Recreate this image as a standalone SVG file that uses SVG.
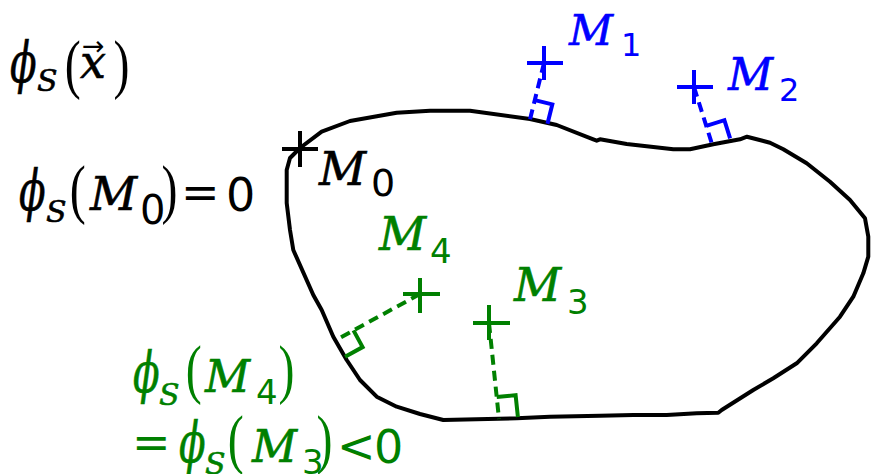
<svg xmlns="http://www.w3.org/2000/svg" width="879" height="474" viewBox="0 0 879 474">
<style>
.var{font-family:"DejaVu Serif",serif;font-style:italic;stroke-width:0.6}
.num{font-family:"DejaVu Sans",sans-serif}
.par{font-family:"Liberation Serif",serif;font-size:48px;stroke-width:0}
.blk{fill:#000;stroke:#000}
.blu{fill:#0000ff;stroke:#0000ff}
.grn{fill:#008000;stroke:#008000}
.num{stroke-width:0}
.phi{font-family:"DejaVu Serif",serif;font-style:italic;font-size:46px;stroke-width:0.5}
.cross{fill:none;stroke-width:4;stroke-linecap:butt}
.dash{fill:none;stroke-width:4;stroke-dasharray:10 6}
.ra{fill:none;stroke-width:4;stroke-linejoin:miter}
</style>
<rect width="879" height="474" fill="#fff"/>
<g id="outline">
<path d="M300,148 L321.7,131.7 L350,121 L396.7,112.7 L430,110.7 L470,110.7 L530,119 L556.7,125 L593.3,139.3 L596.7,140.7 L600,139.3 L626.7,144 L673.3,149.3 L690,149.3 L713.3,144.3 L740,139.3 L747,136.7 L770,142.7 L783.3,149.3 L806.7,163.3 L830,181.7 L850,200 L865,218.3 L868.3,236.7 L868.3,256.7 L863.3,273.3 L853.3,296.7 L840,316.7 L816.7,343.3 L796.7,363.3 L773.3,378.3 L753.3,390 L721.7,410 L718.3,412.7 L696.7,413.3 L666.7,415 L633.3,415 L600,415.7 L550,416.7 L516.7,418.3 L443.3,420 L420,414 L396.7,406.7 L376.7,396.7 L360,380 L346.7,360 L333.3,336.7 L321.7,310 L313.3,295 L293.3,250 L290,230 L286.7,203 L286.7,170 L290,158 Z" fill="none" stroke="#000" stroke-width="4" stroke-linejoin="round"/>
</g>
<g id="connectors">
<line class="dash" stroke="#0000ff" x1="544" y1="63" x2="530" y2="119.5"/>
<polyline class="ra" stroke="#0000ff" points="534.8,100.1 552.3,104.4 547.5,123.8"/>
<line class="dash" stroke="#0000ff" x1="694" y1="87" x2="712" y2="144"/>
<polyline class="ra" stroke="#0000ff" points="706.3,125.9 724.4,120.2 730.1,138.3"/>
<line class="dash" stroke="#008000" x1="420" y1="294" x2="336" y2="340"/>
<polyline class="ra" stroke="#008000" points="353.5,330.4 362.6,347.1 345.1,356.7"/>
<line class="dash" stroke="#008000" x1="489" y1="323" x2="499" y2="419"/>
<polyline class="ra" stroke="#008000" points="496.7,397.1 515.6,395.1 517.9,417"/>
</g>
<g id="M0">
<path class="cross" stroke="#000" d="M282,149 H318 M300,131 V167"/>
<text class="blk"><tspan class="var" x="319" y="185" font-size="46">M</tspan><tspan class="num" x="371" y="196" font-size="38">0</tspan></text>
</g>
<g id="M1">
<path class="cross" stroke="#0000ff" d="M527,63 H563 M544,46 V80"/>
<text class="blu"><tspan class="var" x="569" y="45" font-size="43">M</tspan><tspan class="num" x="621" y="56" font-size="32">1</tspan></text>
</g>
<g id="M2">
<path class="cross" stroke="#0000ff" d="M677,87 H713 M694,70 V104"/>
<text class="blu"><tspan class="var" x="728" y="90" font-size="44">M</tspan><tspan class="num" x="779" y="101" font-size="32">2</tspan></text>
</g>
<g id="M3">
<path class="cross" stroke="#008000" d="M473,323 H510 M489,305 V340"/>
<text class="grn"><tspan class="var" x="514" y="301" font-size="46">M</tspan><tspan class="num" x="567" y="314" font-size="34">3</tspan></text>
</g>
<g id="M4">
<path class="cross" stroke="#008000" d="M403,294 H440 M420,278 V313"/>
<text class="grn"><tspan class="var" x="379" y="250" font-size="46">M</tspan><tspan class="num" x="430" y="263" font-size="34">4</tspan></text>
</g>
<g id="formula-phi-x">
<text class="phi blk" transform="translate(10,82) scale(0.85,1.22)">ϕ</text>
<text class="blk var" x="37" y="91" font-size="30">S</text>
<text class="par blk" transform="translate(64.7,85.5) scale(1,1.35)">(</text>
<text class="blk var" x="80" y="78" font-size="46">x</text>
<text class="blk num" x="82" y="55" font-size="27">→</text>
<text class="par blk" transform="translate(113.6,85.5) scale(1,1.35)">)</text>
</g>
<g id="formula-M0">
<text class="phi blk" transform="translate(19,210) scale(0.85,1.22)">ϕ</text>
<text class="blk var" x="46" y="222" font-size="30">S</text>
<text class="par blk" transform="translate(69.7,210.5) scale(1,1.35)">(</text>
<text class="blk"><tspan class="var" x="90" y="210" font-size="46">M</tspan><tspan class="num" x="140" y="224" font-size="40">0</tspan></text>
<text class="par blk" transform="translate(161.6,210.5) scale(1,1.35)">)</text>
<text class="blk"><tspan class="num" x="181" y="208" font-size="46">=</tspan><tspan class="num" x="226" y="211" font-size="46">0</tspan></text>
</g>
<g id="formula-M4-M3">
<text class="phi grn" transform="translate(133,392) scale(0.85,1.22)">ϕ</text>
<text class="grn var" x="159" y="405" font-size="30">S</text>
<text class="par grn" transform="translate(185.7,390.5) scale(1,1.35)">(</text>
<text class="grn"><tspan class="var" x="205" y="392" font-size="44">M</tspan><tspan class="num" x="256" y="404" font-size="34">4</tspan></text>
<text class="par grn" transform="translate(278.6,390.5) scale(1,1.35)">)</text>
<text class="grn num" x="132" y="458" font-size="46">=</text>
<text class="phi grn" transform="translate(179,462) scale(0.85,1.22)">ϕ</text>
<text class="grn var" x="205" y="474" font-size="30">S</text>
<text class="par grn" transform="translate(227.7,461) scale(1,1.35)">(</text>
<text class="grn"><tspan class="var" x="252" y="462" font-size="44">M</tspan><tspan class="num" x="302" y="474" font-size="34">3</tspan></text>
<text class="par grn" transform="translate(316.6,461) scale(1,1.35)">)</text>
<text class="grn"><tspan class="num" x="337" y="462" font-size="46">&lt;</tspan><tspan class="num" x="374" y="463" font-size="46">0</tspan></text>
</g>
</svg>
